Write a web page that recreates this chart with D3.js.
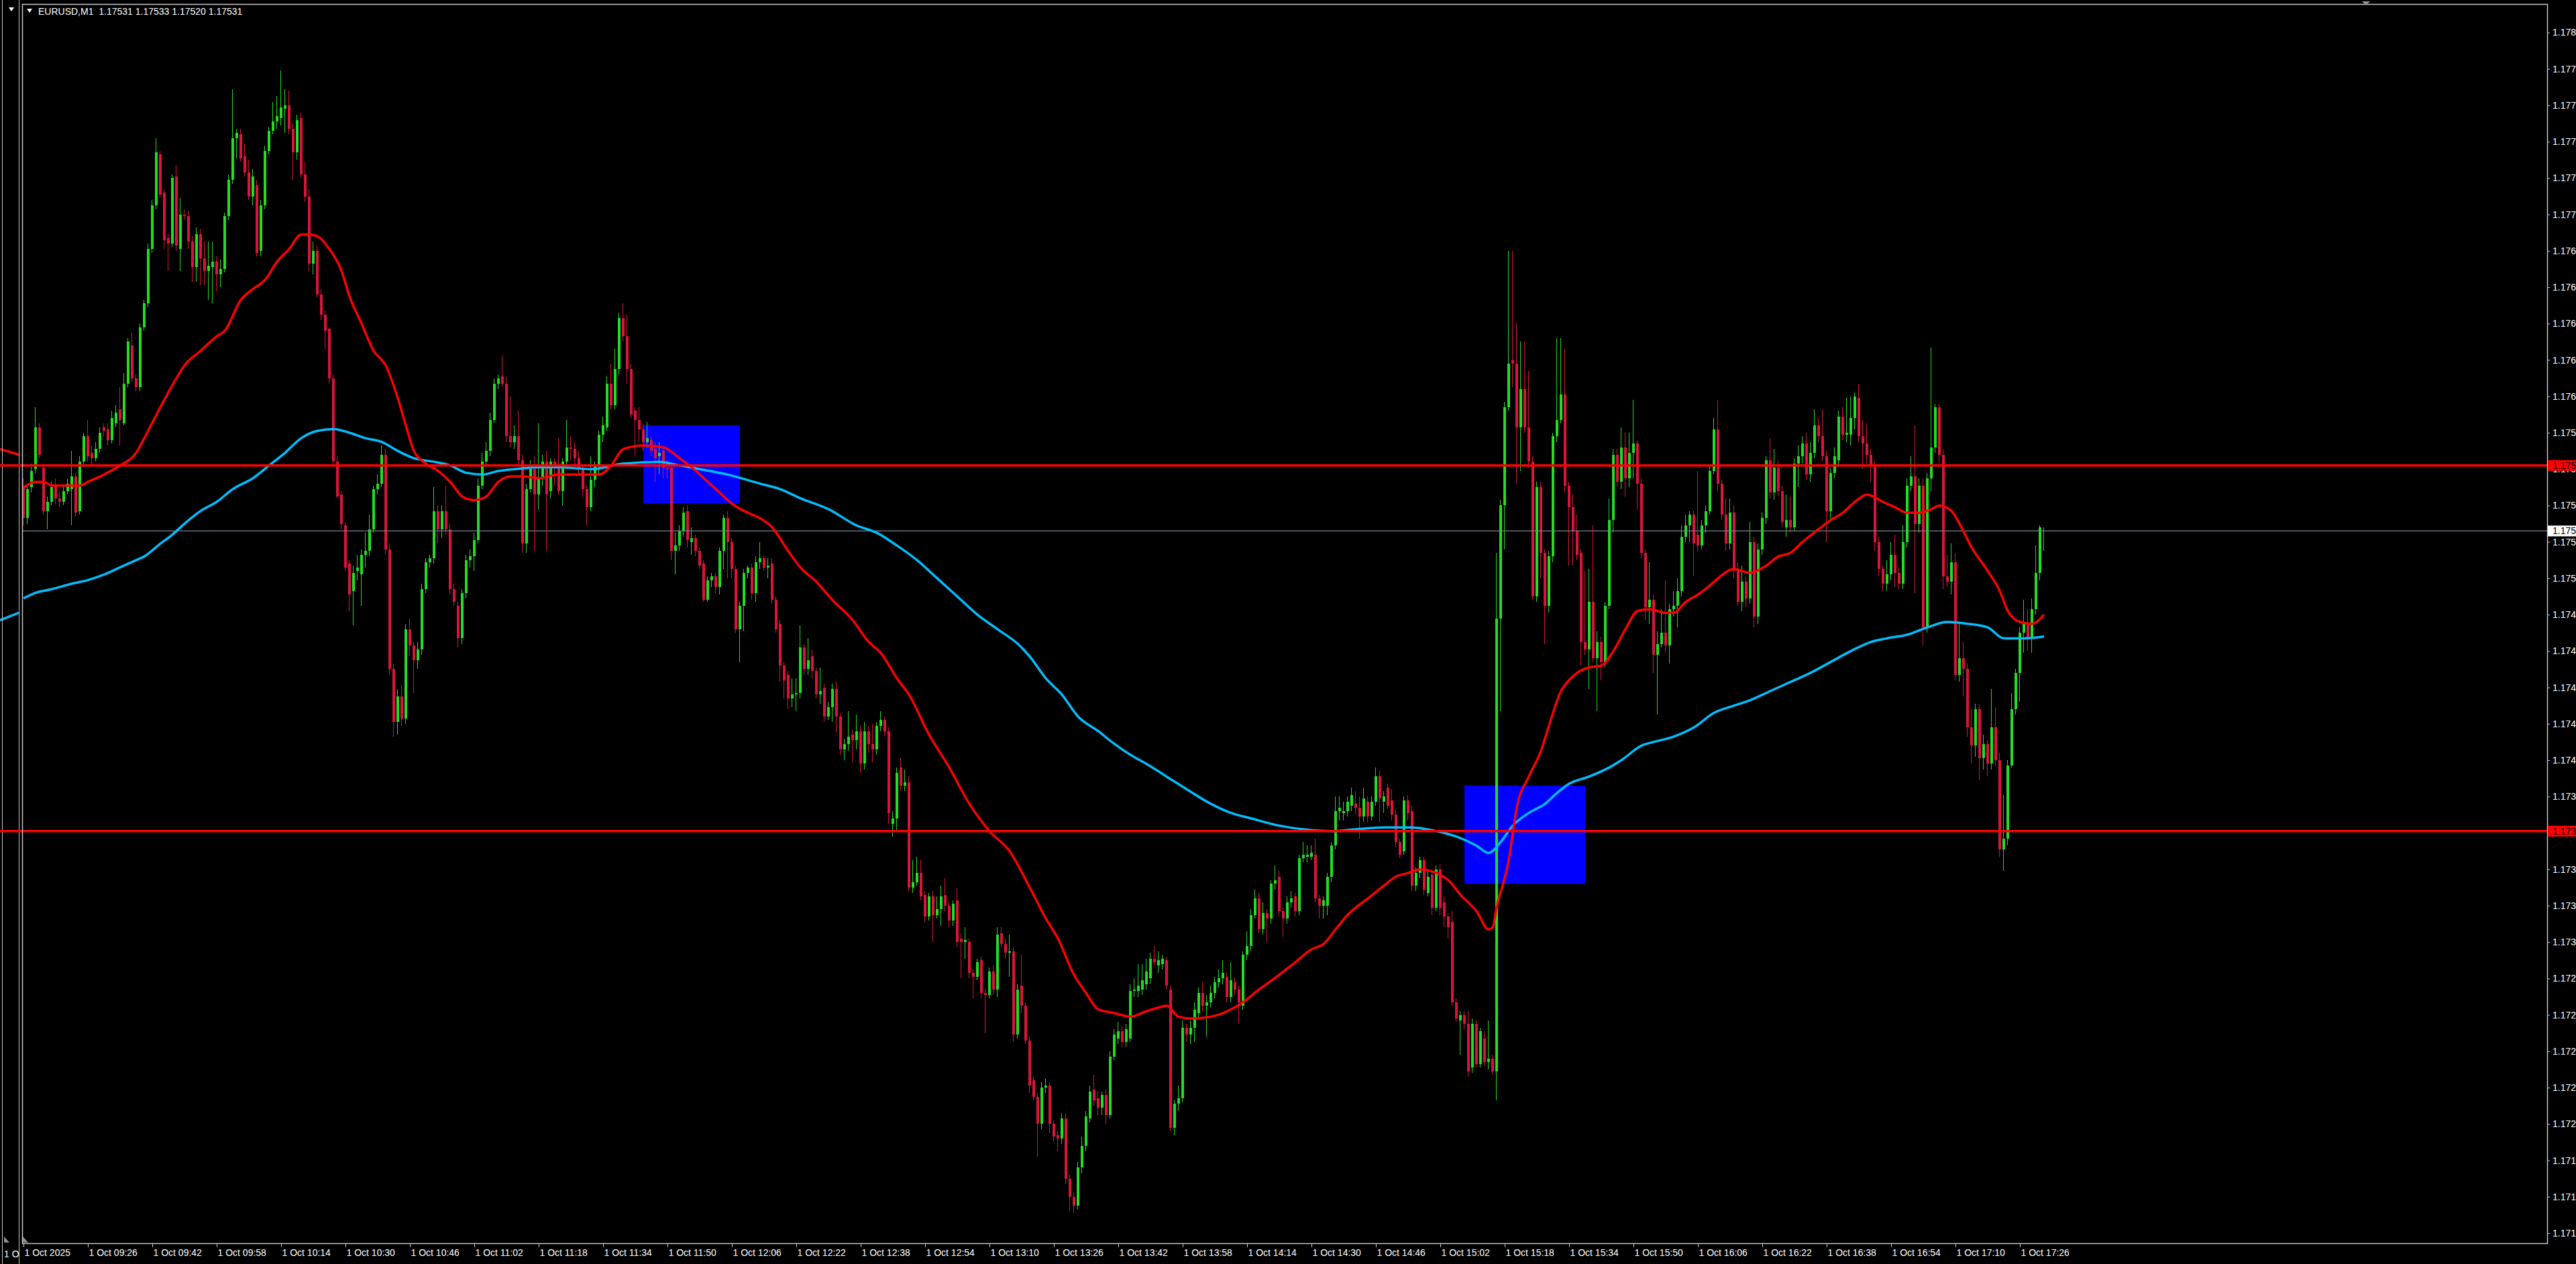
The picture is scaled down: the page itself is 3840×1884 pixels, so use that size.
<!DOCTYPE html>
<html><head><meta charset="utf-8">
<script src="https://cdn.jsdelivr.net/npm/d3@7/dist/d3.min.js"></script>
<style>
html,body{margin:0;padding:0;background:#000;overflow:hidden;}
svg{display:block;}
text{font-family:"Liberation Sans",Arial,sans-serif;}
</style></head><body>
<svg id="chart" width="3840" height="1884"></svg>
<script>
const chartTitle = "EURUSD,M1  1.17531 1.17533 1.17520 1.17531";
const timeTickBars = [0,16,32,48,64,80,96,112,128,144,160,176,192,208,224,240,256,272,288,304,320,336,352,368,384,400,416,432,448,464,480,496];
const timeLabels = ["1 Oct 2025","1 Oct 09:26","1 Oct 09:42","1 Oct 09:58","1 Oct 10:14","1 Oct 10:30","1 Oct 10:46","1 Oct 11:02","1 Oct 11:18","1 Oct 11:34","1 Oct 11:50","1 Oct 12:06","1 Oct 12:22","1 Oct 12:38","1 Oct 12:54","1 Oct 13:10","1 Oct 13:26","1 Oct 13:42","1 Oct 13:58","1 Oct 14:14","1 Oct 14:30","1 Oct 14:46","1 Oct 15:02","1 Oct 15:18","1 Oct 15:34","1 Oct 15:50","1 Oct 16:06","1 Oct 16:22","1 Oct 16:38","1 Oct 16:54","1 Oct 17:10","1 Oct 17:26"];
const priceTicks = [1.17805,1.17785,1.17765,1.17745,1.17725,1.17705,1.17685,1.17665,1.17645,1.17625,1.17605,1.17585,1.17565,1.17545,1.17525,1.17505,1.17485,1.17465,1.17445,1.17425,1.17405,1.17385,1.17365,1.17345,1.17325,1.17305,1.17285,1.17265,1.17245,1.17225,1.17205,1.17185,1.17165,1.17145];

const open = [1.17556,1.17538,1.17555,1.17565,1.17588,1.17566,1.17542,1.17547,1.17556,1.17549,
1.17547,1.17553,1.17554,1.17561,1.17542,1.17569,1.17583,1.17574,1.17571,1.17576,
1.17588,1.17587,1.17581,1.17590,1.17598,1.17590,1.17612,1.17633,1.17615,1.17610,
1.17643,1.17656,1.17686,1.17710,1.17738,1.17717,1.17692,1.17689,1.17726,1.17686,
1.17705,1.17704,1.17690,1.17676,1.17694,1.17681,1.17674,1.17676,1.17679,1.17672,
1.17675,1.17704,1.17724,1.17747,1.17749,1.17737,1.17728,1.17715,1.17721,1.17685,
1.17710,1.17740,1.17751,1.17756,1.17758,1.17763,1.17765,1.17752,1.17739,1.17758,
1.17727,1.17715,1.17678,1.17685,1.17661,1.17650,1.17642,1.17615,1.17569,1.17551,
1.17534,1.17513,1.17498,1.17509,1.17507,1.17518,1.17520,1.17532,1.17554,1.17557,
1.17573,1.17521,1.17455,1.17426,1.17440,1.17428,1.17477,1.17468,1.17460,1.17466,
1.17499,1.17514,1.17516,1.17542,1.17532,1.17542,1.17532,1.17499,1.17490,1.17472,
1.17497,1.17515,1.17517,1.17526,1.17556,1.17569,1.17575,1.17592,1.17612,1.17616,
1.17612,1.17583,1.17580,1.17583,1.17570,1.17524,1.17554,1.17565,1.17551,1.17560,
1.17569,1.17553,1.17569,1.17566,1.17553,1.17569,1.17577,1.17576,1.17571,1.17565,
1.17554,1.17544,1.17559,1.17567,1.17584,1.17588,1.17612,1.17600,1.17620,1.17648,
1.17638,1.17620,1.17597,1.17592,1.17587,1.17580,1.17581,1.17576,1.17572,1.17575,
1.17566,1.17566,1.17520,1.17523,1.17531,1.17542,1.17525,1.17527,1.17520,1.17513,
1.17493,1.17504,1.17506,1.17500,1.17520,1.17538,1.17525,1.17510,1.17477,1.17490,
1.17508,1.17511,1.17497,1.17514,1.17516,1.17511,1.17513,1.17493,1.17480,1.17457,
1.17452,1.17439,1.17441,1.17442,1.17467,1.17455,1.17462,1.17454,1.17441,1.17445,
1.17429,1.17434,1.17444,1.17429,1.17411,1.17414,1.17419,1.17416,1.17421,1.17403,
1.17421,1.17414,1.17411,1.17424,1.17427,1.17421,1.17370,1.17373,1.17401,1.17391,
1.17393,1.17335,1.17338,1.17343,1.17331,1.17319,1.17330,1.17320,1.17323,1.17331,
1.17325,1.17317,1.17328,1.17307,1.17305,1.17305,1.17288,1.17286,1.17295,1.17277,
1.17276,1.17289,1.17279,1.17310,1.17304,1.17299,1.17300,1.17254,1.17281,1.17270,
1.17251,1.17229,1.17220,1.17205,1.17225,1.17226,1.17205,1.17199,1.17197,1.17208,
1.17175,1.17165,1.17160,1.17181,1.17193,1.17208,1.17224,1.17219,1.17214,1.17221,
1.17210,1.17242,1.17252,1.17256,1.17250,1.17252,1.17278,1.17278,1.17279,1.17282,
1.17285,1.17296,1.17292,1.17293,1.17295,1.17279,1.17203,1.17216,1.17219,1.17258,
1.17254,1.17258,1.17266,1.17277,1.17270,1.17272,1.17277,1.17283,1.17285,1.17286,
1.17275,1.17283,1.17279,1.17270,1.17298,1.17303,1.17320,1.17329,1.17312,1.17321,
1.17318,1.17337,1.17341,1.17322,1.17318,1.17327,1.17330,1.17322,1.17351,1.17352,
1.17352,1.17353,1.17329,1.17325,1.17325,1.17341,1.17358,1.17377,1.17376,1.17377,
1.17380,1.17381,1.17379,1.17374,1.17382,1.17374,1.17382,1.17396,1.17382,1.17390,
1.17383,1.17375,1.17360,1.17355,1.17383,1.17377,1.17336,1.17343,1.17350,1.17332,
1.17342,1.17324,1.17345,1.17327,1.17319,1.17316,1.17272,1.17262,1.17265,1.17260,
1.17236,1.17260,1.17238,1.17252,1.17239,1.17241,1.17234,1.17483,1.17545,1.17599,
1.17625,1.17623,1.17588,1.17609,1.17588,1.17569,1.17495,1.17555,1.17519,1.17490,
1.17517,1.17583,1.17592,1.17606,1.17556,1.17544,1.17531,1.17519,1.17470,1.17466,
1.17492,1.17461,1.17470,1.17459,1.17490,1.17537,1.17573,1.17558,1.17577,1.17560,
1.17574,1.17579,1.17557,1.17519,1.17489,1.17493,1.17463,1.17469,1.17475,1.17468,
1.17488,1.17490,1.17498,1.17528,1.17534,1.17540,1.17529,1.17523,1.17534,1.17542,
1.17564,1.17587,1.17557,1.17540,1.17524,1.17541,1.17509,1.17492,1.17503,1.17494,
1.17525,1.17484,1.17521,1.17538,1.17570,1.17552,1.17566,1.17553,1.17533,1.17537,
1.17533,1.17568,1.17572,1.17579,1.17562,1.17574,1.17589,1.17583,1.17572,1.17542,
1.17563,1.17570,1.17594,1.17584,1.17584,1.17593,1.17604,1.17583,1.17579,1.17573,
1.17567,1.17525,1.17510,1.17502,1.17507,1.17518,1.17508,1.17502,1.17525,1.17556,
1.17561,1.17535,1.17556,1.17478,1.17560,1.17577,1.17599,1.17573,1.17506,1.17503,
1.17514,1.17452,1.17461,1.17455,1.17423,1.17413,1.17433,1.17406,1.17414,1.17403,
1.17423,1.17405,1.17356,1.17362,1.17402,1.17433,1.17453,1.17475,1.17480,1.17472,
1.17488,1.17508,1.17531];

const high = [1.17560,1.17556,1.17568,1.17599,1.17590,1.17568,1.17550,1.17558,1.17560,1.17553,
1.17556,1.17560,1.17575,1.17563,1.17572,1.17585,1.17592,1.17578,1.17580,1.17588,
1.17590,1.17590,1.17597,1.17600,1.17610,1.17618,1.17637,1.17640,1.17617,1.17645,
1.17658,1.17689,1.17713,1.17747,1.17740,1.17719,1.17694,1.17727,1.17732,1.17714,
1.17708,1.17707,1.17693,1.17698,1.17697,1.17690,1.17690,1.17690,1.17682,1.17680,
1.17706,1.17727,1.17774,1.17752,1.17752,1.17744,1.17735,1.17730,1.17724,1.17713,
1.17743,1.17753,1.17767,1.17770,1.17784,1.17774,1.17773,1.17755,1.17760,1.17761,
1.17734,1.17719,1.17690,1.17688,1.17664,1.17652,1.17643,1.17617,1.17572,1.17553,
1.17536,1.17515,1.17512,1.17518,1.17521,1.17530,1.17540,1.17556,1.17562,1.17578,
1.17576,1.17524,1.17458,1.17444,1.17446,1.17480,1.17483,1.17470,1.17470,1.17502,
1.17516,1.17518,1.17555,1.17545,1.17545,1.17556,1.17535,1.17502,1.17492,1.17499,
1.17518,1.17521,1.17530,1.17560,1.17574,1.17580,1.17596,1.17615,1.17617,1.17627,
1.17616,1.17605,1.17589,1.17597,1.17573,1.17557,1.17570,1.17572,1.17590,1.17573,
1.17575,1.17571,1.17571,1.17582,1.17571,1.17592,1.17583,1.17580,1.17575,1.17567,
1.17556,1.17572,1.17569,1.17586,1.17594,1.17616,1.17623,1.17631,1.17651,1.17656,
1.17650,1.17623,1.17599,1.17599,1.17590,1.17591,1.17583,1.17580,1.17580,1.17577,
1.17570,1.17568,1.17530,1.17534,1.17544,1.17545,1.17533,1.17529,1.17522,1.17515,
1.17506,1.17508,1.17508,1.17522,1.17540,1.17542,1.17527,1.17512,1.17492,1.17510,
1.17512,1.17513,1.17517,1.17525,1.17517,1.17516,1.17516,1.17495,1.17482,1.17459,
1.17454,1.17450,1.17450,1.17479,1.17469,1.17472,1.17466,1.17456,1.17456,1.17447,
1.17437,1.17447,1.17448,1.17431,1.17417,1.17432,1.17422,1.17430,1.17424,1.17426,
1.17424,1.17425,1.17426,1.17432,1.17429,1.17423,1.17377,1.17401,1.17406,1.17400,
1.17396,1.17350,1.17352,1.17350,1.17333,1.17332,1.17333,1.17330,1.17336,1.17340,
1.17327,1.17328,1.17335,1.17310,1.17313,1.17307,1.17290,1.17296,1.17297,1.17279,
1.17291,1.17292,1.17313,1.17313,1.17307,1.17309,1.17302,1.17282,1.17298,1.17272,
1.17253,1.17231,1.17222,1.17228,1.17230,1.17228,1.17207,1.17201,1.17211,1.17211,
1.17177,1.17167,1.17184,1.17198,1.17212,1.17226,1.17232,1.17223,1.17223,1.17224,
1.17245,1.17257,1.17261,1.17259,1.17260,1.17282,1.17285,1.17293,1.17293,1.17296,
1.17299,1.17303,1.17300,1.17298,1.17297,1.17281,1.17218,1.17226,1.17262,1.17260,
1.17262,1.17272,1.17280,1.17283,1.17276,1.17281,1.17286,1.17290,1.17295,1.17289,
1.17294,1.17286,1.17281,1.17300,1.17311,1.17323,1.17334,1.17332,1.17327,1.17323,
1.17339,1.17347,1.17344,1.17324,1.17330,1.17333,1.17332,1.17353,1.17360,1.17358,
1.17358,1.17362,1.17331,1.17330,1.17343,1.17360,1.17385,1.17385,1.17382,1.17385,
1.17390,1.17388,1.17385,1.17390,1.17385,1.17385,1.17401,1.17399,1.17388,1.17392,
1.17389,1.17378,1.17362,1.17385,1.17386,1.17380,1.17346,1.17352,1.17352,1.17344,
1.17344,1.17347,1.17348,1.17330,1.17321,1.17322,1.17274,1.17267,1.17267,1.17267,
1.17263,1.17262,1.17258,1.17256,1.17262,1.17243,1.17519,1.17548,1.17602,1.17685,
1.17685,1.17645,1.17635,1.17635,1.17619,1.17572,1.17558,1.17558,1.17521,1.17520,
1.17585,1.17637,1.17637,1.17631,1.17558,1.17551,1.17540,1.17521,1.17509,1.17510,
1.17534,1.17476,1.17473,1.17492,1.17549,1.17576,1.17576,1.17588,1.17585,1.17585,
1.17603,1.17581,1.17560,1.17521,1.17514,1.17496,1.17476,1.17488,1.17504,1.17491,
1.17498,1.17505,1.17534,1.17540,1.17542,1.17542,1.17564,1.17537,1.17545,1.17567,
1.17593,1.17603,1.17559,1.17549,1.17549,1.17545,1.17514,1.17512,1.17506,1.17536,
1.17528,1.17524,1.17541,1.17572,1.17582,1.17576,1.17570,1.17556,1.17551,1.17550,
1.17571,1.17578,1.17583,1.17585,1.17580,1.17598,1.17593,1.17598,1.17575,1.17566,
1.17577,1.17597,1.17599,1.17604,1.17605,1.17607,1.17612,1.17592,1.17590,1.17576,
1.17569,1.17528,1.17512,1.17515,1.17525,1.17529,1.17511,1.17534,1.17560,1.17572,
1.17589,1.17560,1.17560,1.17563,1.17632,1.17601,1.17601,1.17576,1.17518,1.17524,
1.17519,1.17480,1.17470,1.17458,1.17433,1.17436,1.17436,1.17419,1.17416,1.17444,
1.17434,1.17409,1.17386,1.17405,1.17442,1.17455,1.17478,1.17493,1.17488,1.17494,
1.17523,1.17534,1.17533];

const low = [1.17534,1.17535,1.17552,1.17563,1.17571,1.17540,1.17532,1.17545,1.17546,1.17544,
1.17545,1.17551,1.17534,1.17539,1.17540,1.17567,1.17569,1.17567,1.17569,1.17574,
1.17583,1.17578,1.17579,1.17588,1.17578,1.17589,1.17610,1.17613,1.17608,1.17608,
1.17641,1.17654,1.17684,1.17708,1.17714,1.17686,1.17674,1.17687,1.17685,1.17674,
1.17702,1.17686,1.17668,1.17668,1.17666,1.17666,1.17658,1.17656,1.17663,1.17665,
1.17673,1.17702,1.17722,1.17736,1.17734,1.17726,1.17713,1.17710,1.17682,1.17682,
1.17708,1.17738,1.17749,1.17752,1.17754,1.17750,1.17749,1.17724,1.17735,1.17725,
1.17712,1.17674,1.17672,1.17659,1.17647,1.17631,1.17612,1.17567,1.17549,1.17532,
1.17509,1.17487,1.17479,1.17504,1.17490,1.17511,1.17517,1.17530,1.17551,1.17555,
1.17518,1.17452,1.17418,1.17419,1.17424,1.17425,1.17462,1.17442,1.17455,1.17463,
1.17497,1.17511,1.17513,1.17524,1.17527,1.17529,1.17496,1.17490,1.17467,1.17469,
1.17494,1.17511,1.17509,1.17524,1.17554,1.17567,1.17572,1.17590,1.17609,1.17610,
1.17580,1.17577,1.17576,1.17567,1.17519,1.17519,1.17552,1.17520,1.17543,1.17556,
1.17520,1.17549,1.17556,1.17551,1.17545,1.17565,1.17570,1.17566,1.17562,1.17550,
1.17534,1.17542,1.17555,1.17562,1.17580,1.17586,1.17598,1.17598,1.17617,1.17635,
1.17612,1.17593,1.17572,1.17580,1.17575,1.17577,1.17572,1.17558,1.17562,1.17560,
1.17560,1.17515,1.17507,1.17520,1.17528,1.17522,1.17518,1.17517,1.17510,1.17492,
1.17492,1.17500,1.17497,1.17496,1.17510,1.17505,1.17505,1.17475,1.17459,1.17476,
1.17505,1.17493,1.17492,1.17510,1.17509,1.17505,1.17491,1.17475,1.17448,1.17439,
1.17433,1.17434,1.17432,1.17439,1.17452,1.17452,1.17450,1.17439,1.17436,1.17426,
1.17427,1.17426,1.17420,1.17408,1.17405,1.17410,1.17404,1.17411,1.17398,1.17400,
1.17409,1.17404,1.17408,1.17421,1.17418,1.17370,1.17363,1.17366,1.17388,1.17388,
1.17333,1.17332,1.17336,1.17328,1.17316,1.17317,1.17305,1.17318,1.17314,1.17322,
1.17313,1.17314,1.17302,1.17285,1.17296,1.17285,1.17274,1.17284,1.17274,1.17255,
1.17274,1.17276,1.17275,1.17302,1.17296,1.17286,1.17250,1.17252,1.17266,1.17249,
1.17222,1.17218,1.17187,1.17202,1.17222,1.17200,1.17195,1.17190,1.17194,1.17172,
1.17157,1.17156,1.17158,1.17178,1.17190,1.17206,1.17215,1.17210,1.17210,1.17205,
1.17208,1.17240,1.17249,1.17247,1.17247,1.17250,1.17275,1.17275,1.17276,1.17279,
1.17282,1.17292,1.17288,1.17290,1.17279,1.17201,1.17199,1.17212,1.17217,1.17250,
1.17249,1.17250,1.17263,1.17267,1.17253,1.17269,1.17274,1.17280,1.17282,1.17272,
1.17272,1.17276,1.17260,1.17268,1.17295,1.17300,1.17318,1.17310,1.17309,1.17305,
1.17315,1.17334,1.17319,1.17308,1.17315,1.17324,1.17319,1.17320,1.17349,1.17349,
1.17350,1.17327,1.17318,1.17318,1.17320,1.17338,1.17356,1.17372,1.17372,1.17374,
1.17377,1.17375,1.17362,1.17371,1.17371,1.17372,1.17380,1.17371,1.17376,1.17378,
1.17372,1.17357,1.17351,1.17353,1.17372,1.17333,1.17333,1.17340,1.17331,1.17330,
1.17320,1.17322,1.17320,1.17313,1.17307,1.17270,1.17261,1.17243,1.17257,1.17231,
1.17233,1.17236,1.17236,1.17237,1.17235,1.17232,1.17218,1.17432,1.17521,1.17597,
1.17610,1.17557,1.17564,1.17585,1.17566,1.17493,1.17492,1.17505,1.17469,1.17486,
1.17514,1.17580,1.17590,1.17552,1.17512,1.17512,1.17515,1.17457,1.17463,1.17444,
1.17459,1.17432,1.17449,1.17456,1.17488,1.17530,1.17555,1.17554,1.17550,1.17555,
1.17560,1.17543,1.17516,1.17482,1.17480,1.17453,1.17430,1.17467,1.17464,1.17458,
1.17484,1.17478,1.17495,1.17525,1.17525,1.17506,1.17520,1.17521,1.17530,1.17540,
1.17562,1.17553,1.17537,1.17520,1.17521,1.17505,1.17490,1.17487,1.17489,1.17491,
1.17478,1.17480,1.17518,1.17535,1.17549,1.17548,1.17550,1.17533,1.17528,1.17530,
1.17531,1.17555,1.17568,1.17559,1.17558,1.17571,1.17580,1.17569,1.17525,1.17536,
1.17560,1.17567,1.17581,1.17580,1.17578,1.17587,1.17580,1.17565,1.17568,1.17558,
1.17520,1.17506,1.17498,1.17498,1.17504,1.17500,1.17499,1.17499,1.17522,1.17553,
1.17497,1.17530,1.17468,1.17475,1.17553,1.17574,1.17568,1.17499,1.17500,1.17496,
1.17449,1.17448,1.17440,1.17418,1.17403,1.17407,1.17394,1.17400,1.17396,1.17400,
1.17402,1.17352,1.17344,1.17358,1.17401,1.17430,1.17437,1.17464,1.17465,1.17464,
1.17485,1.17504,1.17520];

const close = [1.17538,1.17554,1.17564,1.17588,1.17573,1.17542,1.17547,1.17555,1.17549,1.17547,
1.17553,1.17557,1.17561,1.17541,1.17569,1.17583,1.17572,1.17571,1.17576,1.17585,
1.17586,1.17581,1.17593,1.17596,1.17592,1.17612,1.17635,1.17615,1.17610,1.17643,
1.17656,1.17686,1.17710,1.17739,1.17716,1.17691,1.17689,1.17725,1.17688,1.17705,
1.17704,1.17690,1.17676,1.17694,1.17681,1.17674,1.17677,1.17679,1.17672,1.17675,
1.17704,1.17724,1.17747,1.17750,1.17736,1.17728,1.17715,1.17726,1.17684,1.17710,
1.17740,1.17751,1.17756,1.17759,1.17764,1.17765,1.17752,1.17739,1.17757,1.17727,
1.17715,1.17678,1.17685,1.17661,1.17650,1.17641,1.17615,1.17569,1.17550,1.17535,
1.17511,1.17496,1.17508,1.17511,1.17518,1.17520,1.17532,1.17554,1.17557,1.17573,
1.17521,1.17455,1.17426,1.17440,1.17428,1.17477,1.17468,1.17460,1.17466,1.17499,
1.17514,1.17516,1.17542,1.17532,1.17542,1.17532,1.17499,1.17492,1.17472,1.17497,
1.17515,1.17517,1.17526,1.17556,1.17569,1.17575,1.17592,1.17612,1.17615,1.17612,
1.17583,1.17580,1.17583,1.17570,1.17524,1.17554,1.17565,1.17551,1.17560,1.17569,
1.17551,1.17569,1.17566,1.17553,1.17569,1.17577,1.17576,1.17571,1.17566,1.17554,
1.17544,1.17559,1.17567,1.17584,1.17589,1.17612,1.17600,1.17620,1.17648,1.17638,
1.17620,1.17595,1.17592,1.17587,1.17580,1.17582,1.17575,1.17571,1.17574,1.17566,
1.17565,1.17520,1.17523,1.17531,1.17541,1.17526,1.17527,1.17520,1.17512,1.17493,
1.17504,1.17506,1.17500,1.17520,1.17538,1.17525,1.17510,1.17477,1.17490,1.17508,
1.17511,1.17497,1.17514,1.17516,1.17511,1.17512,1.17493,1.17477,1.17457,1.17449,
1.17439,1.17441,1.17442,1.17467,1.17455,1.17460,1.17454,1.17441,1.17443,1.17429,
1.17434,1.17444,1.17429,1.17411,1.17414,1.17418,1.17416,1.17421,1.17403,1.17421,
1.17414,1.17411,1.17424,1.17427,1.17421,1.17376,1.17373,1.17398,1.17391,1.17393,
1.17335,1.17338,1.17343,1.17330,1.17319,1.17330,1.17320,1.17323,1.17330,1.17325,
1.17317,1.17326,1.17305,1.17305,1.17306,1.17288,1.17286,1.17294,1.17277,1.17276,
1.17289,1.17279,1.17309,1.17304,1.17299,1.17300,1.17254,1.17279,1.17270,1.17251,
1.17226,1.17220,1.17205,1.17225,1.17226,1.17205,1.17198,1.17197,1.17208,1.17175,
1.17165,1.17160,1.17181,1.17193,1.17209,1.17223,1.17218,1.17214,1.17221,1.17210,
1.17242,1.17254,1.17256,1.17250,1.17257,1.17278,1.17279,1.17281,1.17284,1.17289,
1.17296,1.17294,1.17295,1.17296,1.17281,1.17203,1.17216,1.17219,1.17258,1.17254,
1.17258,1.17268,1.17277,1.17270,1.17272,1.17277,1.17283,1.17285,1.17288,1.17275,
1.17284,1.17279,1.17272,1.17298,1.17303,1.17320,1.17329,1.17312,1.17321,1.17318,
1.17337,1.17339,1.17322,1.17318,1.17327,1.17329,1.17322,1.17351,1.17353,1.17353,
1.17354,1.17329,1.17325,1.17328,1.17341,1.17358,1.17377,1.17379,1.17377,1.17382,
1.17386,1.17379,1.17374,1.17384,1.17374,1.17382,1.17396,1.17384,1.17385,1.17380,
1.17375,1.17360,1.17353,1.17383,1.17376,1.17336,1.17343,1.17350,1.17334,1.17341,
1.17324,1.17345,1.17324,1.17319,1.17313,1.17272,1.17263,1.17265,1.17260,1.17234,
1.17260,1.17238,1.17256,1.17239,1.17241,1.17234,1.17483,1.17545,1.17599,1.17623,
1.17623,1.17588,1.17609,1.17588,1.17569,1.17495,1.17555,1.17519,1.17490,1.17517,
1.17583,1.17592,1.17606,1.17556,1.17544,1.17531,1.17518,1.17470,1.17466,1.17492,
1.17461,1.17470,1.17459,1.17490,1.17537,1.17573,1.17558,1.17577,1.17560,1.17574,
1.17579,1.17557,1.17519,1.17489,1.17493,1.17463,1.17469,1.17475,1.17468,1.17488,
1.17490,1.17498,1.17528,1.17534,1.17540,1.17524,1.17523,1.17534,1.17542,1.17564,
1.17587,1.17557,1.17540,1.17524,1.17541,1.17509,1.17492,1.17503,1.17494,1.17525,
1.17484,1.17521,1.17538,1.17570,1.17552,1.17566,1.17553,1.17536,1.17537,1.17533,
1.17568,1.17572,1.17579,1.17562,1.17574,1.17589,1.17583,1.17572,1.17542,1.17563,
1.17572,1.17594,1.17584,1.17585,1.17593,1.17605,1.17583,1.17579,1.17573,1.17567,
1.17525,1.17510,1.17502,1.17507,1.17518,1.17508,1.17502,1.17525,1.17556,1.17561,
1.17535,1.17556,1.17478,1.17560,1.17577,1.17599,1.17573,1.17506,1.17503,1.17514,
1.17452,1.17461,1.17455,1.17423,1.17413,1.17433,1.17406,1.17414,1.17403,1.17423,
1.17405,1.17356,1.17362,1.17402,1.17433,1.17453,1.17475,1.17480,1.17472,1.17488,
1.17508,1.17533,1.17531];

const fastMaBars = [0,3,5,7,10,14,16,20,24,28,30,34,38,40,44,48,50,54,57,60,63,66,69,71,73,76,79,81,84,87,90,93,95,97,100,103,106,109,112,115,118,121,124,128,133,139,143,146,149,154,159,163,166,170,173,176,180,183,186,190,193,197,201,206,210,213,217,220,225,230,235,240,245,250,254,257,261,264,267,271,275,279,282,284,287,290,295,300,303,307,312,316,320,323,326,329,334,338,341,344,347,351,354,357,361,364,365,366,369,371,374,377,379,382,384,386,389,392,395,398,401,404,408,410,413,416,420,421,425,429,433,436,439,442,446,449,452,455,458,462,465,468,471,474,476,479,481,484,488,491,493,496,499,502];
const fastMaValues = [1.17555,1.17558,1.17558,1.17556,1.17556,1.17556,1.17558,1.17562,1.17567,1.17574,1.17582,1.17599,1.17615,1.17622,1.17630,1.17638,1.17641,1.17658,1.17664,1.17669,1.17679,1.17686,1.17694,1.17694,1.17693,1.17686,1.17674,1.17660,1.17645,1.17630,1.17622,1.17604,1.17589,1.17575,1.17568,1.17564,1.17558,1.17550,1.17548,1.17550,1.17558,1.17561,1.17561,1.17560,1.17562,1.17562,1.17562,1.17567,1.17576,1.17578,1.17577,1.17571,1.17566,1.17558,1.17552,1.17546,1.17541,1.17538,1.17533,1.17520,1.17511,1.17503,1.17493,1.17482,1.17470,1.17464,1.17450,1.17441,1.17419,1.17401,1.17381,1.17366,1.17355,1.17335,1.17318,1.17307,1.17287,1.17277,1.17268,1.17266,1.17264,1.17267,1.17269,1.17270,1.17264,1.17263,1.17264,1.17268,1.17272,1.17279,1.17287,1.17294,1.17301,1.17304,1.17312,1.17320,1.17329,1.17336,1.17341,1.17343,1.17345,1.17343,1.17339,1.17331,1.17322,1.17312,1.17313,1.17324,1.17350,1.17379,1.17396,1.17410,1.17424,1.17443,1.17449,1.17453,1.17456,1.17457,1.17465,1.17477,1.17487,1.17488,1.17486,1.17486,1.17492,1.17496,1.17503,1.17505,1.17510,1.17508,1.17512,1.17517,1.17519,1.17525,1.17532,1.17537,1.17541,1.17547,1.17551,1.17547,1.17544,1.17541,1.17541,1.17543,1.17545,1.17542,1.17535,1.17522,1.17509,1.17498,1.17487,1.17481,1.17480,1.17485];
const slowMaBars = [0,3,7,12,16,20,24,28,30,34,37,40,44,48,52,57,61,65,69,73,77,81,85,89,93,97,102,106,110,114,118,122,128,133,141,149,158,163,168,175,183,188,193,200,207,212,217,222,227,232,237,242,247,250,254,258,262,267,271,275,279,284,289,295,300,305,312,318,325,331,338,344,351,356,361,364,367,370,374,378,381,384,389,394,397,402,405,410,415,420,425,429,434,439,444,449,454,459,463,468,473,478,483,488,492,497,502];
const slowMaValues = [1.17494,1.17497,1.17499,1.17502,1.17504,1.17507,1.17511,1.17515,1.17517,1.17524,1.17529,1.17535,1.17542,1.17547,1.17554,1.17560,1.17567,1.17574,1.17582,1.17586,1.17587,1.17585,1.17582,1.17580,1.17575,1.17571,1.17569,1.17567,1.17563,1.17562,1.17564,1.17565,1.17566,1.17566,1.17565,1.17568,1.17569,1.17567,1.17565,1.17562,1.17557,1.17554,1.17549,1.17543,1.17534,1.17530,1.17523,1.17515,1.17505,1.17495,1.17485,1.17477,1.17469,1.17462,1.17450,1.17441,1.17429,1.17421,1.17414,1.17408,1.17403,1.17396,1.17389,1.17381,1.17376,1.17373,1.17369,1.17367,1.17366,1.17367,1.17368,1.17368,1.17366,1.17363,1.17358,1.17354,1.17360,1.17369,1.17376,1.17381,1.17387,1.17392,1.17396,1.17401,1.17405,1.17413,1.17415,1.17418,1.17423,1.17431,1.17435,1.17438,1.17443,1.17448,1.17453,1.17459,1.17465,1.17470,1.17472,1.17474,1.17478,1.17481,1.17480,1.17478,1.17472,1.17472,1.17473];

// edge of the neighbouring chart window visible at the far left
const stripFastValues = [1.17576, 1.17573];
const stripSlowValues = [1.17482, 1.17486];

const levelPrices = [1.17567, 1.17366];
const bidPrice = 1.17531;
const zoneStartBar = [154, 358];
const zoneEndBar = [178, 388];
const zoneHigh = [1.17589, 1.17391];
const zoneLow = [1.17546, 1.17337];

const COL = {bull:"#22DD22", bear:"#DC143C", fast:"#FF0000", slow:"#00BFFF", level:"#FF0000",
  zone:"#0000FF", bid:"#778899", fg:"#FFFFFF", frame:"#C8C8C8"};
const P = {left:33, top:6, right:3797, bottom:1853};

const svg = d3.select("#chart");
svg.append("rect").attr("width",3840).attr("height",1884).attr("fill","#000");

const x = d3.scaleLinear().domain([0, close.length-1]).range([35, 35 + 6*(close.length-1)]);
const y = d3.scaleLinear().domain([d3.min(priceTicks), d3.max(priceTicks)]).range([1838, 48.5]);

const defs = svg.append("defs");
defs.append("clipPath").attr("id","plotClip").append("rect")
  .attr("x",P.left+1).attr("y",P.top+1).attr("width",P.right-P.left-1).attr("height",P.bottom-P.top-1);
defs.append("clipPath").attr("id","stripClip").append("rect")
  .attr("x",0).attr("y",0).attr("width",28).attr("height",1884);

// ---- left strip (neighbouring window edge)
const strip = svg.append("g");
const xs = d3.scaleLinear().domain([0,1]).range([0,28]);
const stripLine = d3.line().x((d,i)=>xs(i)).y(d=>y(d));
strip.append("path").datum(stripSlowValues).attr("d",stripLine).attr("fill","none").attr("stroke",COL.slow).attr("stroke-width",3.5);
strip.append("path").datum(stripFastValues).attr("d",stripLine).attr("fill","none").attr("stroke",COL.fast).attr("stroke-width",3.5);
strip.append("line").attr("x1",3.5).attr("x2",3.5).attr("y1",0).attr("y2",1884).attr("stroke",COL.frame).attr("stroke-width",1);
strip.append("line").attr("x1",28.5).attr("x2",28.5).attr("y1",0).attr("y2",1884).attr("stroke",COL.frame).attr("stroke-width",1);
strip.append("path").attr("d","M13,11 L21,11 L17,17 Z").attr("fill",COL.fg);
strip.append("text").attr("x",6).attr("y",1874).attr("fill",COL.fg).attr("font-size",14)
  .attr("clip-path","url(#stripClip)").text("1 O");

const plot = svg.append("g").attr("clip-path","url(#plotClip)");

// zones
plot.append("g").selectAll("rect").data(d3.range(zoneStartBar.length)).join("rect")
  .attr("x",i=>x(zoneStartBar[i])).attr("width",i=>x(zoneEndBar[i])-x(zoneStartBar[i]))
  .attr("y",i=>y(zoneHigh[i])).attr("height",i=>y(zoneLow[i])-y(zoneHigh[i]))
  .attr("fill",COL.zone);

// candles
const idx = d3.range(close.length);
const cg = plot.append("g").attr("shape-rendering","crispEdges");
const colr = i => close[i] >= open[i] ? COL.bull : COL.bear;
cg.selectAll("rect.wick").data(idx).join("rect").attr("class","wick")
  .attr("x",i=>Math.round(x(i))-1).attr("width",1)
  .attr("y",i=>y(high[i])).attr("height",i=>Math.max(1,y(low[i])-y(high[i])))
  .attr("fill",colr);
cg.selectAll("rect.body").data(idx).join("rect").attr("class","body")
  .attr("x",i=>Math.round(x(i))-2).attr("width",4)
  .attr("y",i=>y(Math.max(open[i],close[i])))
  .attr("height",i=>Math.max(1,Math.abs(y(open[i])-y(close[i]))))
  .attr("fill",colr);

// bid line
plot.append("line").attr("x1",P.left).attr("x2",P.right).attr("y1",y(bidPrice)).attr("y2",y(bidPrice))
  .attr("stroke",COL.bid).attr("stroke-width",1.2);

// moving averages
const maLine = d3.line().curve(d3.curveMonotoneX);
plot.append("path").datum(slowMaBars.map((b,i)=>[x(b), y(slowMaValues[i])]))
  .attr("d",maLine).attr("fill","none").attr("stroke",COL.slow).attr("stroke-width",3.5).attr("stroke-linejoin","round");
plot.append("path").datum(fastMaBars.map((b,i)=>[x(b), y(fastMaValues[i])]))
  .attr("d",maLine).attr("fill","none").attr("stroke",COL.fast).attr("stroke-width",3.5).attr("stroke-linejoin","round");

// horizontal levels (span into the strip too)
svg.append("g").selectAll("line").data(levelPrices).join("line")
  .attr("x1",0).attr("x2",P.right).attr("y1",d=>y(d)).attr("y2",d=>y(d))
  .attr("stroke",COL.level).attr("stroke-width",3.5);

// frame
svg.append("rect").attr("x",P.left+0.5).attr("y",P.top+0.5).attr("width",P.right-P.left).attr("height",P.bottom-P.top)
  .attr("fill","none").attr("stroke",COL.frame).attr("stroke-width",1.5);

// price axis
const yAxis = d3.axisRight(y).tickValues(priceTicks).tickSize(4).tickPadding(4).tickFormat(d3.format(".5f"));
const ya = svg.append("g").attr("transform",`translate(${P.right},0)`).call(yAxis);
ya.select(".domain").remove();
ya.selectAll("line").attr("stroke",COL.frame);
ya.selectAll("text").attr("fill",COL.fg).attr("font-size",14).attr("font-family","Liberation Sans, Arial, sans-serif");

// time axis
const xAxis = d3.axisBottom(x).tickValues(timeTickBars).tickSize(6).tickPadding(3)
  .tickFormat((d,i)=>timeLabels[i]);
const xa = svg.append("g").attr("transform",`translate(0,${P.bottom})`).call(xAxis);
xa.select(".domain").remove();
xa.selectAll("line").attr("stroke",COL.frame);
xa.selectAll("text").attr("fill",COL.fg).attr("font-size",14).attr("text-anchor","start").attr("dx",1)
  .attr("font-family","Liberation Sans, Arial, sans-serif");

// price labels at right
const fmt = d3.format(".5f");
const labels = levelPrices.map(p=>({p, bg:COL.level})).concat([{p:bidPrice, bg:"#FFFFFF"}]);
const lg = svg.append("g").selectAll("g").data(labels).join("g").attr("transform",d=>`translate(${P.right+1},${y(d.p)})`);
lg.append("rect").attr("x",0).attr("y",-8).attr("width",60).attr("height",16).attr("fill",d=>d.bg);
lg.append("text").attr("x",7).attr("y",5).attr("fill","#000").attr("font-size",14).text(d=>fmt(d.p));

// header
svg.append("path").attr("d","M40,13 L48,13 L44,19 Z").attr("fill",COL.fg);
svg.append("text").attr("x",57).attr("y",22).attr("fill",COL.fg).attr("font-size",14)
  .attr("xml:space","preserve").style("white-space","pre").text(chartTitle);

// chart-shift marker at top
svg.append("path").attr("d","M3521,2 L3533,2 L3527,8 Z").attr("fill","#909090");
// scale markers bottom-left
svg.append("path").attr("d","M34,1843 L34,1852 L42,1852 Z").attr("fill","#909090");
svg.append("path").attr("d","M6,1843 L6,1852 L14,1852 Z").attr("fill","#909090");
</script>
</body></html>
